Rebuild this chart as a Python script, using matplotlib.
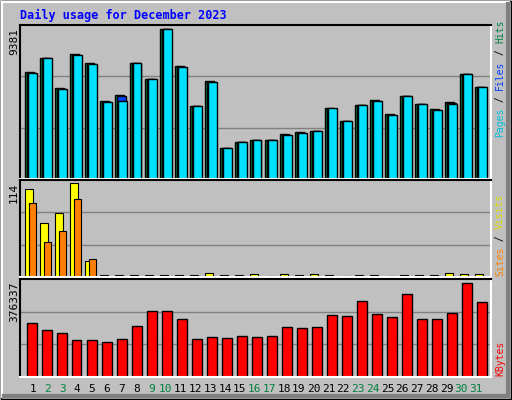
import matplotlib
matplotlib.use("Agg")
import matplotlib.pyplot as plt
from matplotlib.patches import Rectangle
from matplotlib.lines import Line2D
import numpy as np

days = list(range(1, 32))
weekend = [2, 3, 9, 10, 16, 17, 23, 24, 30, 31]
hits = [6690, 7570, 5690, 7820, 7250, 4880, 5250, 7250, 6250, 9381, 7070, 4570, 6130, 1940, 2310, 2440,
        2440, 2810, 2940, 3000, 4440, 3630, 4630, 4940, 4060, 5190, 4690, 4380, 4810, 6560, 5750]
files = [6630, 7570, 5630, 7760, 7190, 4820, 4870, 7250, 6250, 9381, 7010, 4570, 6070, 1940, 2310, 2440,
         2440, 2750, 2880, 3000, 4440, 3630, 4630, 4880, 4000, 5190, 4690, 4320, 4690, 6560, 5750]
pages = [6630, 7570, 5630, 7760, 7190, 4820, 5190, 7250, 6250, 9381, 7010, 4570, 6070, 1940, 2310, 2440,
         2440, 2750, 2880, 3000, 4380, 3630, 4630, 4880, 4000, 5190, 4690, 4320, 4750, 6560, 5750]
visits = [107, 66, 78, 114, 20, 3, 3, 2, 2, 2, 2, 3, 5, 2, 2, 4, 1, 4, 2, 4, 2, 1, 3, 2, 1, 3, 3, 3, 5, 4, 4]
sites = [90, 42, 56, 95, 22, 1, 1, 1, 1, 1, 1, 1, 1, 1, 1, 1, 1, 1, 1, 1, 1, 1, 1, 1, 1, 1, 1, 1, 1, 1, 1]
kbytes = [215000, 190000, 178000, 149000, 149000, 141000, 153000, 203000, 265000, 265000, 232000, 153000,
          161000, 157000, 165000, 161000, 165000, 199000, 195000, 199000, 248000, 244000, 306000, 252000,
          240000, 331000, 232000, 232000, 256000, 376337, 302000]

W, H = 512, 400
fig = plt.figure(figsize=(5.12, 4.0), dpi=100, facecolor="#C0C0C0")
mono = "DejaVu Sans Mono"

bg = fig.add_axes([0, 0, 1, 1]); bg.set_axis_off(); bg.set_xlim(0, W); bg.set_ylim(H, 0)
bg.add_patch(Rectangle((0.5, 0.5), W - 1.5, H - 1.5, fill=False, ec="black", lw=1))
bg.add_line(Line2D([2, W - 3], [2, 2], color="white", lw=1.5))
bg.add_line(Line2D([2, 2], [2, H - 3], color="white", lw=1.5))
bg.add_line(Line2D([W - 4, W - 4], [4, H - 4], color="#808080", lw=3))
bg.add_line(Line2D([4, W - 4], [H - 4, H - 4], color="#808080", lw=3))

X0, X1, SLOT = 20, 491, 15.0

def panel(top, bottom):
    ax = fig.add_axes([X0 / W, 1 - bottom / H, (X1 - X0) / W, (bottom - top) / H])
    ax.set_facecolor("#C0C0C0")
    ax.set_xlim(0, (X1 - X0) / SLOT)
    ax.set_xticks([]); ax.set_yticks([])
    for s, c in [("top", "black"), ("left", "black"), ("bottom", "white"), ("right", "white")]:
        ax.spines[s].set_color(c); ax.spines[s].set_linewidth(1.5)
    return ax

x = np.arange(31)

ax1 = panel(25, 179)
top1 = 9381 * 1.03
ax1.set_ylim(0, top1)
for g in (top1 / 3, 2 * top1 / 3):
    ax1.axhline(g, color="#808080", lw=1, zorder=0)
ax1.bar(x + 0.33, hits, width=0.6, align="edge", color="#008040", ec="black", lw=1)
ax1.bar(x + 0.44, pages, width=0.6, align="edge", color="#0040FF", ec="black", lw=1)
ax1.bar(x + 0.53, files, width=0.57, align="edge", color="#00E0FF", ec="black", lw=1)

ax2 = panel(180, 277)
top2 = 118
ax2.set_ylim(0, top2)
for g in (top2 / 3, 2 * top2 / 3):
    ax2.axhline(g, color="#808080", lw=1, zorder=0)
ax2.bar(x + 0.33, visits, width=0.53, align="edge", color="#FFFF00", ec="black", lw=0.8)
ax2.bar(x + 0.59, sites, width=0.49, align="edge", color="#FF8000", ec="black", lw=0.8)

ax3 = panel(279, 377)
top3 = 376337 * 95 / 91
ax3.set_ylim(0, top3)
for g in (top3 / 3, 2 * top3 / 3):
    ax3.axhline(g, color="#808080", lw=1, zorder=0)
ax3.bar(x + 0.44, kbytes, width=0.66, align="edge", color="#FF0000", ec="black", lw=1)

bg.text(20, 15, "Daily usage for December 2023", color="#0000FF", fontsize=8.5, fontweight="bold",
        family=mono, va="center", ha="left")
for y, lab in [(28, "9381"), (183, "114"), (282, "376337")]:
    bg.text(14, y, lab, rotation=90, ha="center", va="top", fontsize=8, family=mono, color="black")
for i, d in enumerate(days):
    bg.text(33 + i * 14.77, 389, str(d), ha="center", va="center", fontsize=8, family=mono,
            color="#008040" if d in weekend else "black")

FS = 7
CH = FS * 0.602 * 100 / 72
def rtext(y, parts):
    yy = y
    for txt, c in parts:
        bg.text(500, yy, txt, rotation=90, ha="center", va="bottom", fontsize=FS, family=mono, color=c)
        yy -= len(txt) * CH

rtext(137, [("Pages", "#00C0E0"), (" / ", "black"), ("Files", "#0040FF"), (" / ", "black"), ("Hits", "#008040")])
rtext(276, [("Sites", "#FF8000"), (" / ", "black"), ("Visits", "#E0E000")])
rtext(376, [("KBytes", "#FF0000")])

fig.savefig("out.png", dpi=100, facecolor=fig.get_facecolor())
